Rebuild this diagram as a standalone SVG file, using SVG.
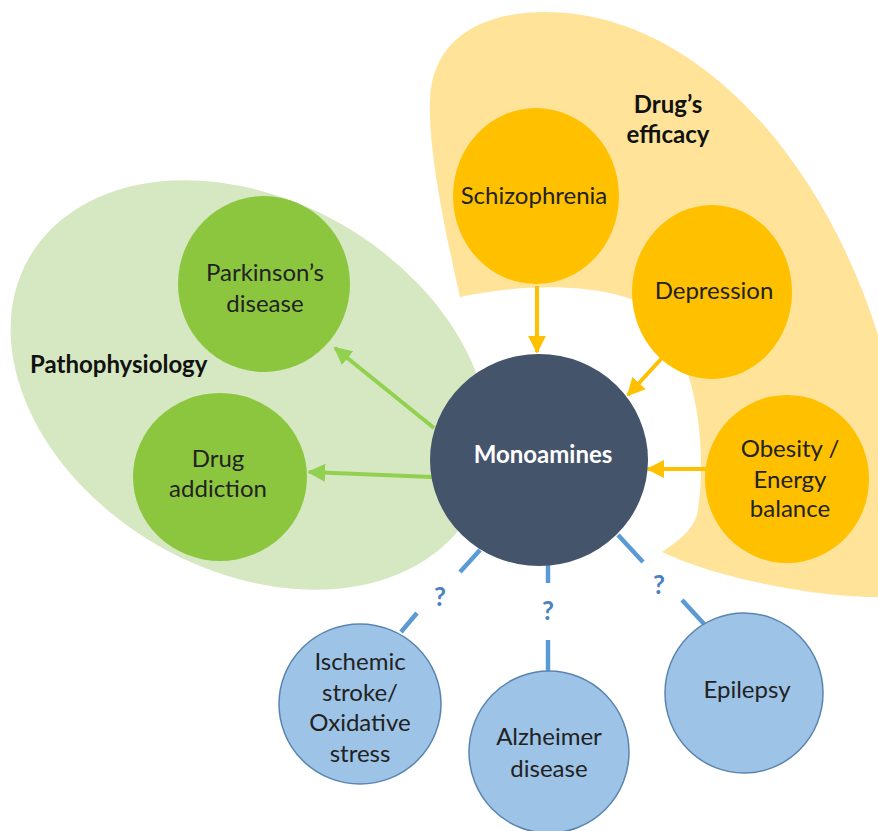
<svg xmlns="http://www.w3.org/2000/svg" width="878" height="831" viewBox="0 0 878 831">
<defs>
<style>
.t{font-family:Lato,"Liberation Sans",sans-serif;font-size:24px;fill:#222;text-anchor:middle}
.b{font-weight:bold;fill:#111}
.q{font-family:Lato,"Liberation Sans",sans-serif;font-size:26px;font-weight:bold;fill:#4a82c0;text-anchor:middle}
.g{fill:#8cc63f}
.o{fill:#ffc000}
.bl{fill:#9dc3e6;stroke:#5a84b0;stroke-width:1.5}
.ag{stroke:#92d050;stroke-width:4;fill:none}
.ao{stroke:#ffc000;stroke-width:4;fill:none}
.d{stroke:#5b9bd5;stroke-width:4.5;fill:none}
</style>
<marker id="mg" viewBox="0 0 10 10" refX="9" refY="5" markerWidth="4.5" markerHeight="4.5" markerUnits="strokeWidth" orient="auto"><path d="M0,0L10,5L0,10Z" fill="#92d050"/></marker>
<marker id="mo" viewBox="0 0 10 10" refX="9" refY="5" markerWidth="4.5" markerHeight="4.5" markerUnits="strokeWidth" orient="auto"><path d="M0,0L10,5L0,10Z" fill="#ffc000"/></marker>
</defs>
<rect width="878" height="831" fill="#fff"/>
<g id="pathophysiology-group">
<ellipse cx="250" cy="385" rx="255" ry="185" transform="rotate(30 250 385)" fill="#d5e8c1"/>
<text class="t b" x="30" y="373" style="text-anchor:start">Pathophysiology</text>
</g>
<g id="efficacy-group">
<path d="M460,297 C445,230 428,150 430,100 C432,40 480,12 545,12 C690,12 820,150 878,335 L878,597 C820,597 720,580 662,552 C680,540 692,530 697,515 C705,470 705,380 660,315 C625,285 540,280 460,297 Z" fill="#ffe399"/>
<text class="t b" x="668" y="113">Drug’s</text>
<text class="t b" x="668" y="143">efficacy</text>
</g>
<g id="connectors">
<line class="ao" x1="537" y1="286" x2="537" y2="352" marker-end="url(#mo)"/>
<line class="ao" x1="662" y1="358" x2="628" y2="395" marker-end="url(#mo)"/>
<line class="ao" x1="706" y1="469" x2="648" y2="469" marker-end="url(#mo)"/>
<line class="ag" x1="434" y1="428" x2="335" y2="348" marker-end="url(#mg)"/>
<line class="ag" x1="432" y1="477" x2="309" y2="472" marker-end="url(#mg)"/>
<line class="d" x1="480" y1="550" x2="460" y2="572"/>
<line class="d" x1="417" y1="613" x2="401" y2="632"/>
<text class="q" x="440" y="606">?</text>
<line class="d" x1="548" y1="560" x2="548" y2="583"/>
<line class="d" x1="548" y1="640" x2="548" y2="672"/>
<text class="q" x="548" y="620">?</text>
<line class="d" x1="618" y1="535" x2="643" y2="562"/>
<line class="d" x1="682" y1="600" x2="705" y2="625"/>
<text class="q" x="659" y="594">?</text>
</g>
<g id="schizophrenia"><ellipse class="o" cx="536" cy="196" rx="83" ry="88"/><text class="t" x="534" y="204">Schizophrenia</text></g>
<g id="depression"><ellipse class="o" cx="712" cy="292" rx="80" ry="87"/><text class="t" x="714" y="299">Depression</text></g>
<g id="obesity"><ellipse class="o" cx="787" cy="479" rx="82" ry="84"/><text class="t" x="790" y="457">Obesity /</text><text class="t" x="790" y="488">Energy</text><text class="t" x="790" y="517">balance</text></g>
<g id="monoamines"><ellipse cx="539" cy="460" rx="109" ry="106" fill="#44546a"/><text class="t" x="543" y="463" style="fill:#fff;font-weight:bold">Monoamines</text></g>
<g id="parkinsons"><ellipse class="g" cx="264" cy="284" rx="86" ry="88"/><text class="t" x="265" y="281">Parkinson’s</text><text class="t" x="265" y="312">disease</text></g>
<g id="drug-addiction"><ellipse class="g" cx="220" cy="477" rx="87" ry="84"/><text class="t" x="218" y="467">Drug</text><text class="t" x="218" y="497">addiction</text></g>
<g id="ischemic"><ellipse class="bl" cx="360" cy="704" rx="81" ry="80"/><text class="t" x="360" y="670">Ischemic</text><text class="t" x="360" y="701">stroke/</text><text class="t" x="360" y="731">Oxidative</text><text class="t" x="360" y="762">stress</text></g>
<g id="alzheimer"><ellipse class="bl" cx="549" cy="752" rx="80" ry="81"/><text class="t" x="549" y="745">Alzheimer</text><text class="t" x="549" y="777">disease</text></g>
<g id="epilepsy"><ellipse class="bl" cx="744" cy="693" rx="79" ry="80"/><text class="t" x="747" y="698">Epilepsy</text></g>
</svg>
